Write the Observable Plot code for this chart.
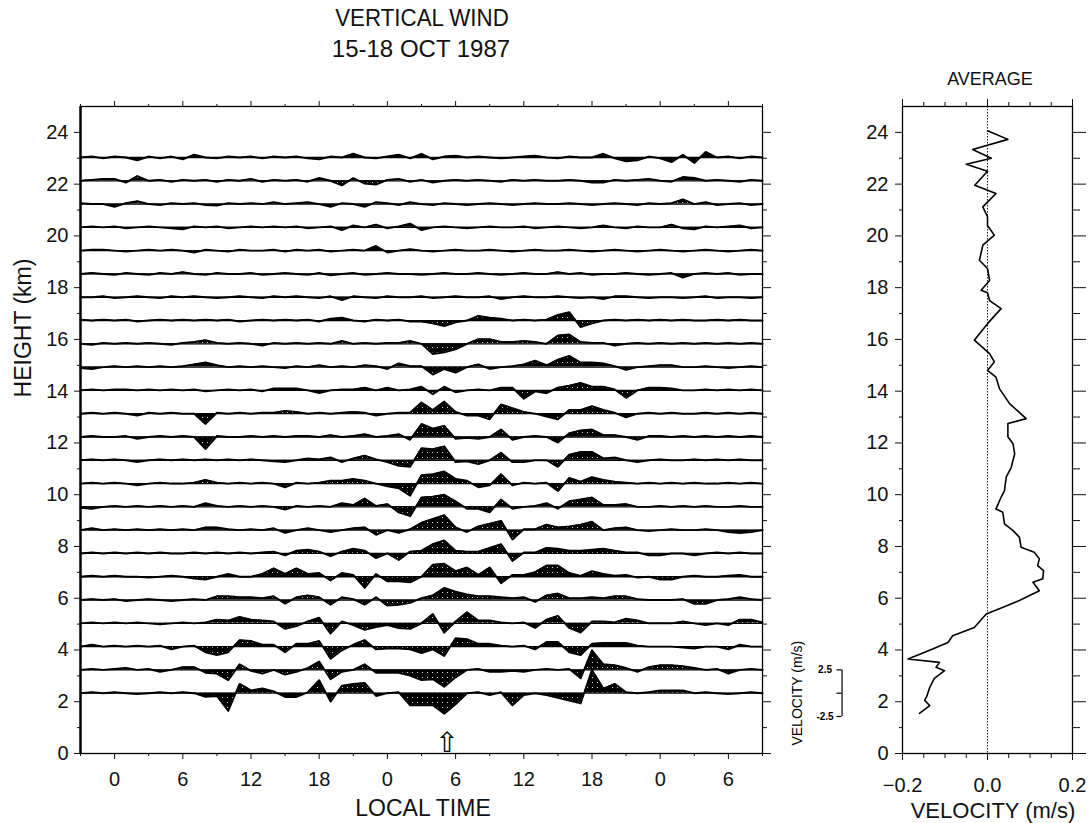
<!DOCTYPE html>
<html><head><meta charset="utf-8">
<script src="https://cdn.jsdelivr.net/npm/d3@7"></script>
<script src="https://cdn.jsdelivr.net/npm/@observablehq/plot@0.6"></script>
<style>
body{margin:0;background:#fff;}
#wrap{position:relative;width:1089px;height:823px;overflow:hidden;font-family:"Liberation Sans",Arial,sans-serif;color:#111;background:#fff;}
.lbl{position:absolute;white-space:nowrap;line-height:1;}
#wrap svg{position:absolute;top:0;}
</style></head><body><div id="wrap"></div>
<script>
// ---- time grid (hours from 00 LT of 15 Oct) ----
const hours = [-3,-2,-1,0,1,2,3,4,5,6,7,8,9,10,11,12,13,14,15,16,17,18,19,20,21,22,23,24,25,26,27,28,29,30,31,32,33,34,35,36,37,38,39,40,41,42,43,44,45,46,47,48,49,50,51,52,53,54,55,56,57];
// ---- trace baseline heights (km) ----
const baselines = [2.33,3.23,4.13,5.03,5.93,6.83,7.73,8.63,9.53,10.43,11.33,12.23,13.13,14.03,14.93,15.83,16.73,17.63,18.53,19.43,20.33,21.23,22.13,23.03];
// ---- vertical velocity (m/s) per gate, hourly ----
const w0=[0,0.1,0,0.1,0,-0.1, 0,0.1,0,0.1,0,-0.4, -0.3,-1.9,1.0,0.3,0.5,0.2, -0.4,-0.4,0.1,1.4,-0.9,0.8, 1.0,1.1,-0.3,0,0.1,-1.3, -1.3,-1.3,-2.2,-1.2,0,0.1, -0.2,0.1,-1.3,-0.2,0,-0.2, -0.5,-0.8,-1.1,2.5,0.5,1.0, 0.1,0,0.1,0.3,0.3,0.3, 0,0.1,0,-0.1,0,0.1, 0];
const w1=[0,0.1,0,0.1,0.2,0, 0.1,-0.2,0,0.3,0.3,-0.3, -0.4,-1.1,0.6,-0.1,-0.4,0, -0.5,-0.2,0.2,0.9,-1.0,-0.2, 0,0.6,-0.3,-0.3,-0.3,-0.6, -1.1,-1.0,-1.8,-0.8,0,0.1, -0.2,-0.2,-0.1,-0.2,0,0.1, 0,0.1,-0.9,2.1,0.6,0.5, 0.2,-0.2,0.3,0.5,0.5,0.4, 0.2,0,0.1,-0.4,0,0.1, 0];
const w2=[0,0.2,0,0.1,0,0.1, 0,0.1,-0.3,0,0.1,-0.6, -0.9,-0.6,0.7,0.6,0.2,0.2, -0.6,0.3,0.3,0.6,-1.3,-0.4, 0.2,0.7,-0.3,-0.2,-0.2,-0.3, -0.7,-0.3,-1.0,0.9,0.8,0.3, 0.3,0.1,0,0.1,-0.3,0.5, 0.5,-0.6,-0.9,0.3,0.4,0.4, 0.4,0.1,0,0,0,-0.1, -0.2,0,0,-0.3,0.2,0, 0];
const w3=[0,0.1,0,0.1,0,0.1, 0,-0.1,0,0.1,0,0.1, 0.4,0.3,0.7,0.4,0.3,0.2, -0.6,-0.3,0.2,0.6,-1.1,0.2, -0.2,-0.7,-0.4,-0.2,-0.5,-0.6, 0,1.0,-1.0,0.2,1.2,0.3, 0.3,0.1,0,0.1,-0.5,0.4, 0.8,-0.5,-1.0,0.2,0.2,0.1, 0.5,0.3,0,0,0,0.2, 0,-0.2,0,-0.2,0.4,0.4, 0.1];
const w4=[0,0.1,0,0.1,-0.1,0, 0.1,0,-0.1,0,0.1,0, 0.4,0.4,0.3,0.3,0.2,0.4, -0.4,0.3,0.5,0.3,-0.5,0.3, 0.1,-0.5,0.3,-0.6,-0.5,-0.3, 0.2,0.5,1.3,0.9,0.6,0.4, 0.4,0.3,0.2,0.3,-0.2,0.5, 0.7,0.2,0.2,0.3,0.2,0.4, 0.4,0.1,0,0,0,0.1, -0.4,-0.4,0,0.1,0.3,0.1, 0];
const w5=[0,0.1,0,0.1,0,0, -0.1,0,0.1,0,-0.2,-0.3, 0,0.3,0,0,0.3,0.9, 0.3,0.9,0.3,0.4,-0.4,0.4, 0.2,-1.2,0.3,-0.5,-0.5,-0.6, 0,1.3,1.4,0.6,1.0,0.2, 1.0,-0.7,0.2,0.2,0.5,1.2, 1.2,0.4,0.1,0.6,0.3,0.1, 0.2,-0.1,0,-0.3,-0.3,0, 0.1,0,0,0.1,0.2,0, 0];
const w6=[0,0.1,0,0.1,0,0.1, 0,0.1,0,0,0.1,0, 0.1,0,0.1,0,0.1,0.2, -0.2,0.3,0.4,0.2,-0.3,0.2, 0.5,0.3,-0.5,0,-0.7,0.2, 0.3,1.0,1.4,0.3,0.2,0.2, 0.6,1.0,-0.8,0.1,0.1,0.6, 0.5,0.3,0.3,0.4,0.5,0.3, 0.1,0.1,-0.2,-0.2,0,0, -0.2,0,0.1,0,0.1,0, 0];
const w7=[0,0.2,0,0.1,0,0.1, 0,0.1,0,0.1,0,0.3, 0.3,0.1,0,0.1,0,0.2, -0.3,0,0.2,0,-0.2,0, 0.2,0.3,-0.5,0,-0.3,0.1, 0.8,1.2,1.6,0.3,-0.2,0.4, 0.7,1.0,-1.0,0.1,0.1,0.6, 0.3,0.4,0.6,0.9,0,0.2, 0.3,0,-0.1,0,0.1,0, 0,0.1,0,-0.2,-0.3,-0.2, 0];
const w8=[-0.1,-0.2,0,0.1,0,0.1, 0,0.1,0,0.1,0,0.4, 0.1,0,0.1,0,0.1,0, -0.3,0.1,0,0.1,0,0.4, 0.2,0.9,0.1,0.3,-0.6,-1.0, 1.0,1.1,1.3,0.6,-0.2,-0.2, -0.6,0.8,-0.2,0,0.1,0.4, -0.2,0.6,0.8,1.0,0.2,0.2, 0.3,0,0,0.1,0,0.1, 0,0.1,0,0,0.1,0, 0];
const w9=[0,0.1,0,0.1,0,-0.2, 0,0.1,0,0,0.1,0.4, 0.1,0,0.1,0,0.1,0, -0.4,0.1,0,0.1,0.3,0.3, 0.5,0.3,0,-0.3,-0.5,-1.3, 0.9,1.0,1.3,0.5,0.3,-0.4, -0.2,1.0,-0.2,0.1,0,0.1, -0.8,0.6,0.2,0.7,0.4,0.2, 0.1,0,0.1,0,0.1,0, 0.1,0,0,0.1,0,0.1, 0];
const w10=[0,0.1,0,0.1,0,-0.2, 0,0.1,0,0.1,0,0.1, 0,0.1,0,0.1,0,-0.1, -0.2,0,0.2,0.1,0.3,-0.2, 0.2,0.5,0.1,-0.2,-0.6,-0.7, 1.3,1.2,1.5,-0.2,-0.1,-0.4, 0,0.8,-0.2,-0.2,0,0, -0.7,0.6,0.9,0.9,0.2,0.3, 0,-0.2,0,0.1,0,0, 0.1,0,0.1,0,0.1,0, 0];
const w11=[0,0.1,0,0,0.1,-0.2, 0,0.1,0,0.1,0,-1.3, 0.1,0,0,0.1,0,0.1, 0,0.1,0.1,0,0.2,0, 0.1,0.3,0,0.1,0.3,-0.3, 1.4,0.9,1.2,-0.2,-0.1,-0.2, 0,0.8,-0.3,0,0.1,0, -0.6,0.4,0.7,0.8,0.2,0.2, 0,-0.3,0.1,0.1,0,0.1, 0,0.1,0,0.1,0,0.1, 0];
const w12=[0,0.1,0,0.1,0,-0.2, 0.1,0,0.1,0,0,-1.1, 0.1,0,0.1,0,0.1,0.1, 0.3,0.2,0,0.1,0,0.1, 0.2,0.1,-0.2,0,0.1,0.1, 1.2,0.4,1.3,0.2,-0.2,-0.2, -0.6,1.0,0.6,0.2,0,-0.3, -0.6,0.4,0.4,0.8,0.4,0.1, -0.4,0,0.1,0,0.1,0, 0,0.1,0,0.1,0,0.1, 0];
const w13=[0,0.1,0,0.1,0.1,0, 0.1,0,0.1,0,0.1,-0.1, 0,0.1,0,0.1,-0.1,0.2, 0.2,0.2,0,-0.3,0,0.1, 0.1,0.3,0,0.3,0,0.1, 0.4,-0.4,0.4,-0.2,0,0.1, 0,0.3,0.3,-0.9,-0.1,-0.3, 0.3,0.5,0.8,0.4,0.4,0.1, -0.8,0,0.3,0.3,0.2,0, 0,0.1,0,0.1,0,0.1, 0];
const w14=[-0.1,-0.2,0,0.1,0,0.1, 0,0.1,0,0.1,0.3,0.5, 0.2,0,0.1,0,0.1,0, -0.1,0.1,0,0.2,0,0.1, 0,0.2,0.1,-0.2,0.4,0.1, 0.1,-0.8,-0.2,-0.6,0,0.3, -0.2,0,0.1,0.3,0.7,0.2, 0.8,1.2,0.5,0.5,0.4,0.1, -0.3,0,0.1,0.2,0.2,0, 0,0.1,0,-0.1,0,0.1, 0];
const w15=[0,-0.1,0.1,0,0.1,0, 0.1,0,-0.1,0.1,0.2,0.4, 0.1,0,0.1,0,-0.2,0.1, 0,0.1,0,0.1,0,0.3, 0,0.1,0,0.1,0.1,0.3, 0,-1.1,-0.9,-0.6,0,0.5, 0.5,0.2,0.2,0.3,0.2,0, 0.9,1.0,0.2,0.1,0.1,-0.2, 0,0.1,0,0.1,0,0.1, 0,0.1,0,0.1,0,0.1, 0];
const w16=[0.1,0,0.1,0,0.1,-0.1, 0,0.1,0,0.1,0,0.1, 0,0.1,-0.1,0,0.1,0, 0.1,0,0.1,-0.1,0.2,0.3, 0,-0.1,0.1,0,0.1,-0.1, -0.1,-0.3,-0.6,-0.2,0,0.5, 0.3,0.2,0,0.1,0,0.1, 0.6,0.9,-0.7,-0.3,0,0.1, 0,0.1,0,0.1,0,0.1, 0,0,0.1,0,0.1,0, 0];
const w17=[0,0,0.1,-0.1,0,0.1, 0,-0.1,0.1,0,0.1,0, -0.1,0,0.1,0,-0.1,0.1, 0,0.1,0,-0.1,0.1,-0.3, 0.1,0,-0.1,0.1,0,0, 0.1,-0.1,0,0.1,0,0, 0.1,-0.2,0,0.1,0,0, 0.1,0,-0.1,0,-0.2,0.1, 0.1,0,-0.1,0,0,-0.1, 0,0.1,-0.1,0,0,-0.1, 0];
const w18=[0,0.1,0,-0.1,0.1,0, -0.1,0.1,0,0.2,0,-0.1, 0.1,0,0,0.1,-0.1,0, 0.1,0,-0.1,0.1,-0.15,0, 0.1,-0.1,0,0.1,0,0, -0.1,0,0.1,0,0,0.1, 0,-0.1,0,0.1,0,0, 0.2,0,0.1,-0.1,0,0, 0.1,0,-0.1,0,0.1,-0.4, 0,0.1,0,0.1,-0.1,0, 0];
const w19=[0,0.1,0.1,0,-0.1,0, 0.1,0,0.1,0,-0.2,0.1, 0,-0.1,0.1,0,0,0.1, -0.1,0.1,0,0.1,-0.1,0, 0.1,0,0.5,-0.2,0,0.15, 0,-0.1,0,0.1,0,0, 0.1,0,-0.1,0,0.1,0, 0,0.1,0,-0.1,0,0.1, 0,-0.1,0,0.1,0,-0.1, 0,0.1,0,-0.1,0,0.1, 0];
const w20=[0,0.1,0,0.1,-0.1,0, 0.1,0,-0.1,-0.2,0.1,0, 0.1,-0.1,0,0.1,0,0.1, 0,0.1,-0.1,0,0.1,-0.3, 0.2,0,0.3,-0.1,0.1,0.4, -0.3,0,0.1,0,-0.1,0, 0.1,0,0,0.1,-0.1,0, 0.1,0,-0.1,0,0.2,0, -0.1,0.1,0,0,0.3,-0.1, -0.2,0.1,0,0.1,0.2,-0.1, 0];
const w21=[0.1,0,0,-0.3,0.1,0.3, 0,-0.1,0.1,0,0.1,-0.1, -0.15,0.1,0,0.1,0,0.2, 0,0.1,0.2,0,-0.3,0.1, 0,-0.3,0.2,0.1,-0.1,0.2, 0,-0.1,0.1,0,-0.1,0, 0.1,0,-0.1,0,0.1,0, 0,0.1,0,-0.1,0,0.1, 0,-0.1,0.1,0,0.1,0.5, 0,0.2,-0.1,0,0.1,-0.1, 0];
const w22=[0,0.1,0.2,0.2,-0.2,0.5, 0,0.1,-0.1,0.1,0,0.1, -0.1,0.1,0,0.2,-0.1,0.1, 0,0.1,-0.1,0.3,0,-0.5, 0.3,-0.3,-0.4,0.1,0.2,-0.1, 0.1,-0.2,0,0.1,0,0.1, 0,-0.1,0.1,0,0.1,0, 0,0.1,0,-0.2,-0.2,0.1, 0,0.1,0.2,0,-0.1,0.4, 0.3,0,0.1,0,-0.1,0.1, 0];
const w23=[0,0.1,-0.1,0.1,0,-0.3, 0.1,-0.1,0.1,-0.2,0.3,0, -0.1,0.1,0,0.1,-0.1,0.1, 0,0.1,-0.1,-0.2,0.1,0, 0.4,0,-0.1,0.1,0.3,-0.1, 0.4,-0.2,0.1,0.2,0,0.1, 0,-0.1,0,0.1,0.2,0, -0.1,0.1,0,0,0.4,-0.1, -0.4,-0.3,0.1,-0.1,-0.5,0.3, -0.6,0.6,0,0.1,-0.1,0.1, 0];
const traces = [w0,w1,w2,w3,w4,w5,w6,w7,w8,w9,w10,w11,w12,w13,w14,w15,w16,w17,w18,w19,w20,w21,w22,w23];

// ---- average profile ----
const avgHeight = [1.55,1.85,2.06,2.2,2.55,2.9,3.2,3.33,3.52,3.65,4.04,4.29,4.55,4.87,5.39,5.59,5.91,6.29,6.62,6.75,7.07,7.26,7.52,7.78,7.97,8.36,8.61,8.87,9.32,9.45,9.9,10.16,10.68,11.06,11.58,11.97,12.24,12.75,12.94,13.52,14.1,14.54,14.8,15.13,15.45,15.97,16.61,17.19,17.5,17.8,17.9,18.28,18.74,19.06,19.64,20.03,20.4,20.74,21.12,21.64,21.96,22.5,22.77,23.0,23.34,23.73,24.06];
const avgVel = [-0.16,-0.136,-0.148,-0.143,-0.136,-0.125,-0.101,-0.121,-0.113,-0.187,-0.129,-0.093,-0.082,-0.031,-0.003,0.028,0.075,0.122,0.107,0.13,0.132,0.118,0.122,0.11,0.079,0.075,0.06,0.04,0.036,0.02,0.032,0.04,0.044,0.056,0.064,0.06,0.048,0.048,0.091,0.052,0.028,0.02,0.0,0.016,0.005,-0.031,0.0,0.032,0.005,0.0,-0.015,0.005,0.0,-0.019,-0.011,0.016,0.0,0.0,-0.011,0.02,-0.03,0.0,-0.05,0.009,-0.035,0.048,0.0];

// ---- ticks ----
const yMajor = [0,2,4,6,8,10,12,14,16,18,20,22,24];
const yMinor = [1,3,5,7,9,11,13,15,17,19,21,23];
const xMajor = [0,6,12,18,24,30,36,42,48,54];
const xMinor = [-3,3,9,15,21,27,33,39,45,51,57];
const vTicks = [-0.2,-0.15,-0.1,-0.05,0,0.05,0.1,0.15,0.2];
const vLabels = [-0.2,0,0.2];
const scaleTicks = [2.5,0,-2.5];
const scaleLabels = [2.5,-2.5];
const arrowTime = [29.25];

const kmPerMs = 0.36; // 2.5 m/s = 0.9 km
const rows = [];
traces.forEach((vals,i)=>vals.forEach((v,j)=>rows.push({base:baselines[i], t:hours[j], v, y:baselines[i]+v*kmPerMs})));
const avgRows = avgHeight.map((h,i)=>({h, v:avgVel[i]}));

const font = "Liberation Sans, Arial, sans-serif";
const legendX = 64.0;

const left = Plot.plot({
  width: 870, height: 823,
  marginLeft: 80, marginRight: 108, marginTop: 106, marginBottom: 70,
  x: {domain:[-3,57], axis:null},
  y: {domain:[0,25], axis:null},
  style: {fontFamily: font, fontSize: "20px", color: "#111", background: "transparent", overflow: "visible"},
  marks: [
    Plot.areaY(rows, {x:"t", y1:"base", y2:"y", z:"base", fill:"url(#stip)"}),
    Plot.ruleY(baselines, {stroke:"#000", strokeWidth:1.3}),
    Plot.line(rows, {x:"t", y:"y", z:"base", stroke:"#000", strokeWidth:1.9, strokeLinejoin:"round"}),
    Plot.frame({stroke:"#000", strokeWidth:1.3}),
    Plot.ruleX([-3], {stroke:"#000", strokeWidth:2.4}),
    Plot.axisY({anchor:"left", ticks:yMajor, tickSize:6, tickPadding:6, label:null, tickFormat:d=>String(d), fontSize:20}),
    Plot.axisY({anchor:"left", ticks:yMinor, tickSize:3, label:null, tickFormat:()=>""}),
    Plot.axisY({anchor:"right", ticks:yMajor, tickSize:8, label:null, tickFormat:()=>""}),
    Plot.axisY({anchor:"right", ticks:yMinor, tickSize:4, label:null, tickFormat:()=>""}),
    Plot.axisX({anchor:"bottom", ticks:xMajor, tickSize:6, tickPadding:12, label:null, tickFormat:d=>String(((d%24)+24)%24), fontSize:20}),
    Plot.axisX({anchor:"bottom", ticks:xMinor, tickSize:3, label:null, tickFormat:()=>""}),
    Plot.axisX({anchor:"top", ticks:xMajor, tickSize:6, label:null, tickFormat:()=>""}),
    Plot.axisX({anchor:"top", ticks:xMinor, tickSize:3, label:null, tickFormat:()=>""}),
    Plot.text(arrowTime, {x:d=>d, y:()=>0.42, text:()=>"\u21E7", fontSize:28, fontFamily:"DejaVu Sans", lineAnchor:"middle", fill:"#000"}),
    // velocity scale legend next to lowest trace
    Plot.ruleX([legendX], {y1:baselines[0]+scaleTicks[2]*kmPerMs, y2:baselines[0]+scaleTicks[0]*kmPerMs, stroke:"#000", strokeWidth:1.2}),
    Plot.ruleY(scaleTicks, {y:d=>baselines[0]+d*kmPerMs, x1:legendX-0.45, x2:legendX, stroke:"#000", strokeWidth:1.2}),
    Plot.text(scaleLabels, {x:()=>legendX-1.5, y:d=>baselines[0]+d*kmPerMs, text:d=>d.toFixed(1), fontSize:10, fontWeight:"bold", textAnchor:"middle", fill:"#000"}),
    Plot.text(["VELOCITY (m/s)"], {x:()=>60.1, y:()=>baselines[0], rotate:-90, fontSize:14, fill:"#000"})
  ]
});

const defs = d3.select(left).insert("defs", ":first-child");
const pat = defs.append("pattern").attr("id","stip").attr("width",5).attr("height",5).attr("patternUnits","userSpaceOnUse");
pat.append("rect").attr("width",5).attr("height",5).attr("fill","#000");
pat.append("rect").attr("x",2).attr("y",2).attr("width",1).attr("height",1).attr("fill","#fff").attr("opacity",0.85);

const right = Plot.plot({
  width: 229, height: 823,
  marginLeft: 42, marginRight: 17, marginTop: 106, marginBottom: 70,
  x: {domain:[-0.2,0.2], axis:null},
  y: {domain:[0,25], axis:null},
  style: {fontFamily: font, fontSize: "20px", color: "#111", background: "transparent", overflow: "visible"},
  marks: [
    Plot.ruleX([0], {stroke:"#000", strokeWidth:0.9, strokeDasharray:"1.5,1.5"}),
    Plot.line(avgRows, {x:"v", y:"h", stroke:"#000", strokeWidth:1.6}),
    Plot.frame({stroke:"#000", strokeWidth:1.3}),
    Plot.axisY({anchor:"left", ticks:yMajor, tickSize:7, tickPadding:7, label:null, tickFormat:d=>String(d), fontSize:20}),
    Plot.axisY({anchor:"left", ticks:yMinor, tickSize:3, label:null, tickFormat:()=>""}),
    Plot.axisY({anchor:"right", ticks:yMajor, tickSize:13, label:null, tickFormat:()=>""}),
    Plot.axisY({anchor:"right", ticks:yMinor, tickSize:7, label:null, tickFormat:()=>""}),
    Plot.axisX({anchor:"bottom", ticks:vTicks, tickSize:5, label:null, tickFormat:()=>""}),
    Plot.axisX({anchor:"bottom", ticks:vLabels, tickSize:7, tickPadding:17, label:null, tickFormat:d=>d3.format(".1f")(d), fontSize:20}),
    Plot.axisX({anchor:"top", ticks:vTicks, tickSize:5, label:null, tickFormat:()=>""}),
    Plot.axisX({anchor:"top", ticks:vLabels, tickSize:8, label:null, tickFormat:()=>""})
  ]
});

const wrap = document.getElementById("wrap");
left.style.left = "0px";
right.style.left = "860px";
wrap.appendChild(left);
wrap.appendChild(right);

function label(text, x, y, size, extra) {
  const d = document.createElement("div");
  d.className = "lbl";
  d.textContent = text;
  d.style.left = x + "px";
  d.style.top = y + "px";
  d.style.fontSize = size + "px";
  d.style.transform = "translate(-50%,-50%)" + (extra || "");
  wrap.appendChild(d);
}
label("VERTICAL WIND", 422, 18, 24, " scaleX(0.93)");
label("15-18 OCT 1987", 421, 49, 24, "");
label("HEIGHT (km)", 23, 328, 23, " rotate(-90deg)");
label("LOCAL TIME", 423, 808, 23, "");
label("AVERAGE", 990, 79, 18, "");
label("VELOCITY (m/s)", 993, 811, 22, "");
</script></body></html>
